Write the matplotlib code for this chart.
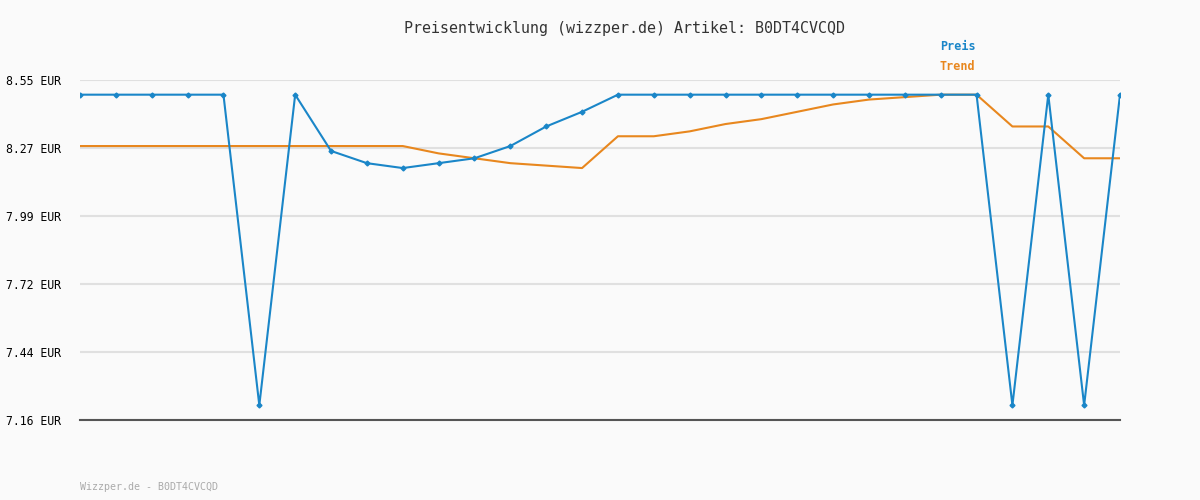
import matplotlib
matplotlib.use("Agg")
import matplotlib.pyplot as plt
import numpy as np

preis = [8.49]*5 + [7.22, 8.49, 8.26, 8.21, 8.19, 8.21, 8.23, 8.28, 8.36, 8.42] + [8.49]*11 + [7.22, 8.49, 7.22, 8.49]
trend = [8.28]*10 + [8.25, 8.23, 8.21, 8.20, 8.19, 8.32, 8.32, 8.34, 8.37, 8.39, 8.42, 8.45, 8.47, 8.48, 8.49, 8.49, 8.36, 8.36, 8.23, 8.23]
ytick_labels = ["7.16 EUR", "7.44 EUR", "7.72 EUR", "7.99 EUR", "8.27 EUR", "8.55 EUR"]
ymin, ymax = 7.16, 8.55

plt.rcParams['font.family'] = ['DejaVu Sans Mono']
fig = plt.figure(figsize=(12, 5), dpi=100, facecolor='#fafafa')
ax = fig.add_axes([80/1200, 80/500, 1040/1200, 340/500])
ax.set_facecolor('#fafafa')
x = np.arange(len(preis))
ax.plot(x, trend, color='#e8871e', lw=1.5)
ax.plot(x, preis, color='#1a86c8', lw=1.5, marker='D', ms=2.5)
ax.set_xlim(0, len(preis)-1)
ax.set_ylim(ymin, ymax)
yt = np.linspace(ymin, ymax, len(ytick_labels))
ax.set_yticks(yt)
ax.set_yticklabels(ytick_labels, fontsize=8.3)
ax.set_xticks([])
ax.tick_params(axis='y', length=0, pad=14)
ax.grid(axis='y', color='#e0e0e0', lw=1.5)
ax.set_axisbelow(True)
for s in ['top', 'right', 'left']:
    ax.spines[s].set_visible(False)
ax.spines['bottom'].set_color('#555555')
ax.spines['bottom'].set_linewidth(1.5)
fig.text(0.52, 1-28/500, "Preisentwicklung (wizzper.de) Artikel: B0DT4CVCQD", ha='center', va='center', fontsize=10.8, color='#333333')
fig.text(940/1200, 1-47/500, "Preis", color='#1a86c8', fontsize=8.5, fontweight='bold', va='center')
fig.text(940/1200, 1-67/500, "Trend", color='#e8871e', fontsize=8.5, fontweight='bold', va='center')
fig.text(80/1200, 1-487/500, "Wizzper.de - B0DT4CVCQD", color='#aaaaaa', fontsize=7.2, va='center')
fig.savefig("out.png", facecolor=fig.get_facecolor())
